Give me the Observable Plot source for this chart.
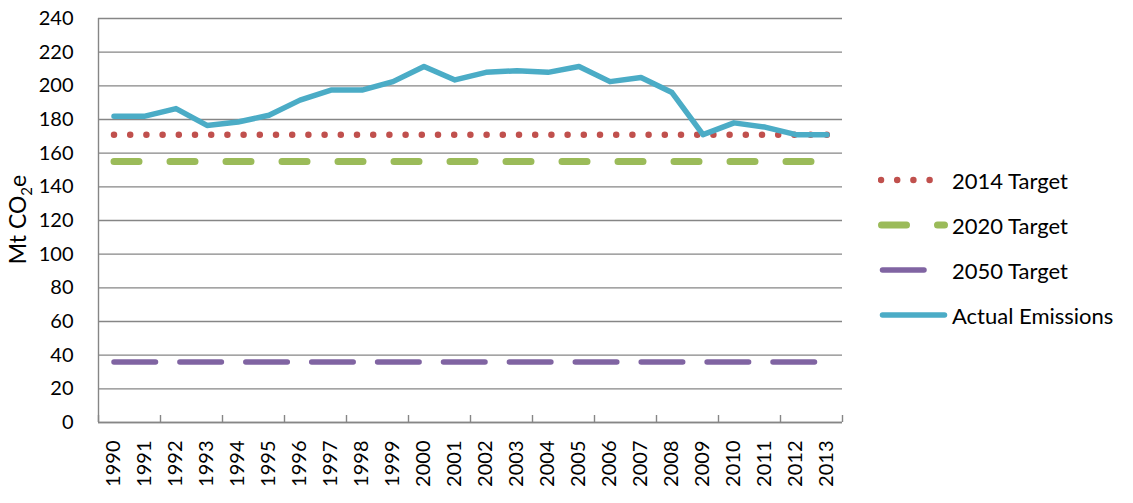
<!DOCTYPE html>
<html><head><meta charset="utf-8">
<script src="https://cdn.jsdelivr.net/npm/d3@7"></script>
<script src="https://cdn.jsdelivr.net/npm/@observablehq/plot@0.6"></script>
<style>
body{margin:0;background:#fff;}
#wrap{position:relative;width:1133px;height:503px;font-family:Lato, "Open Sans", sans-serif;}
#legend{position:absolute;left:878px;top:0;}
.row{position:absolute;left:0;height:30px;display:flex;align-items:center;white-space:nowrap;font-size:22px;color:#000;}
.row svg{display:block;margin-right:2px;}
</style></head><body><div id="wrap"><div id="chart"></div><div id="legend"></div></div>
<script>
const years = [1990,1991,1992,1993,1994,1995,1996,1997,1998,1999,2000,2001,2002,2003,2004,2005,2006,2007,2008,2009,2010,2011,2012,2013];
const actualEmissions = [182,182,186.5,176.5,178.5,182.5,191.5,197.5,197.5,202.5,211.5,203.5,208,209,208,211.5,202.5,205,196,171,178,175.5,171,171];
const target2014 = [171,171,171,171,171,171,171,171,171,171,171,171,171,171,171,171,171,171,171,171,171,171,171,171];
const target2020 = [155,155,155,155,155,155,155,155,155,155,155,155,155,155,155,155,155,155,155,155,155,155,155,155];
const target2050 = [36,36,36,36,36,36,36,36,36,36,36,36,36,36,36,36,36,36,36,36,36,36,36,36];
const yTicks = [0,20,40,60,80,100,120,140,160,180,200,220,240];
const categoryBoundaries = [1989.5,1991.5,1993.5,1995.5,1997.5,1999.5,2001.5,2003.5,2005.5,2007.5,2009.5,2011.5,2013.5];
const seriesNames = ["2014 Target","2020 Target","2050 Target","Actual Emissions"];

const styles = {
  "2014 Target": {stroke:"#c0504d", strokeWidth:6.5, strokeDasharray:"0,16.2"},
  "2020 Target": {stroke:"#9bbb59", strokeWidth:7, strokeDasharray:"25,31"},
  "2050 Target": {stroke:"#8064a2", strokeWidth:5.5, strokeDasharray:"41.5,24.4"},
  "Actual Emissions": {stroke:"#4bacc6", strokeWidth:5.5}
};
const valuesBySeries = {
  "2014 Target": target2014,
  "2020 Target": target2020,
  "2050 Target": target2050,
  "Actual Emissions": actualEmissions
};
const gridColor = "#868686";

const lineMarks = seriesNames.map(name => Plot.lineY(
  years.map((yr, i) => ({year: yr, value: valuesBySeries[name][i]})),
  {x: "year", y: "value", strokeLinecap: "round", strokeLinejoin: "round", ...styles[name]}
));

const chart = Plot.plot({
  width: 1133,
  height: 503,
  marginLeft: 98,
  marginRight: 291,
  marginTop: 18,
  marginBottom: 81,
  style: {fontFamily: "Lato, 'Open Sans', sans-serif", fontSize: "20px", color: "#000", background: "#fff"},
  x: {type: "linear", domain: [1989.5, 2013.5]},
  y: {domain: [0, 240]},
  marks: [
    Plot.gridY(yTicks, {stroke: gridColor, strokeOpacity: 1, strokeWidth: 1.4}),
    Plot.ruleX([1989.5], {stroke: gridColor, strokeWidth: 1.4}),
    Plot.ruleY([0], {stroke: gridColor, strokeWidth: 1.4}),
    Plot.axisY({ticks: yTicks, tickSize: 0, tickPadding: 25, label: null, fill: "#000"}),
    Plot.axisX({ticks: years, tickSize: 0, tickPadding: 18, tickRotate: -90, tickFormat: d => String(d), label: null, fill: "#000"}),
    Plot.axisX({ticks: categoryBoundaries, tickSize: -7, tickFormat: () => "", label: null, stroke: gridColor, strokeWidth: 1.4}),
    ...lineMarks,
    Plot.text(["Mt CO2e"], {text: d => d, frameAnchor: "left", textAnchor: "middle", dx: -80, dy: -1, rotate: -90, fontSize: 23, fill: "#000"})
  ]
});
document.getElementById("chart").appendChild(chart);

// subscript in axis title
d3.select(chart).selectAll("text").filter(function(){ return this.textContent === "Mt CO2e"; }).each(function(){
  const t = d3.select(this);
  t.text(null);
  t.append("tspan").text("Mt CO");
  t.append("tspan").attr("dy", 6).attr("font-size", 15).text("2");
  t.append("tspan").attr("dy", -6).text("e");
});

// legend
const legendCenters = [180, 225, 270, 315];
const legend = document.getElementById("legend");
seriesNames.forEach((name, i) => {
  const row = document.createElement("div");
  row.className = "row";
  row.style.top = (legendCenters[i] - 15) + "px";
  const s = styles[name];
  const svg = d3.create("svg").attr("width", 72).attr("height", 30);
  const isSolid = !s.strokeDasharray;
  svg.append("line")
    .attr("x1", name === "2014 Target" ? 3 : name === "2020 Target" ? 3.5 : 4.5)
    .attr("x2", name === "2014 Target" ? 52 : 66.5)
    .attr("y1", 15).attr("y2", 15)
    .attr("stroke", s.stroke).attr("stroke-width", s.strokeWidth)
    .attr("stroke-linecap", "round")
    .attr("stroke-dasharray", isSolid ? null : s.strokeDasharray);
  row.appendChild(svg.node());
  const span = document.createElement("span");
  span.textContent = name;
  row.appendChild(span);
  legend.appendChild(row);
});
</script>
</body></html>
